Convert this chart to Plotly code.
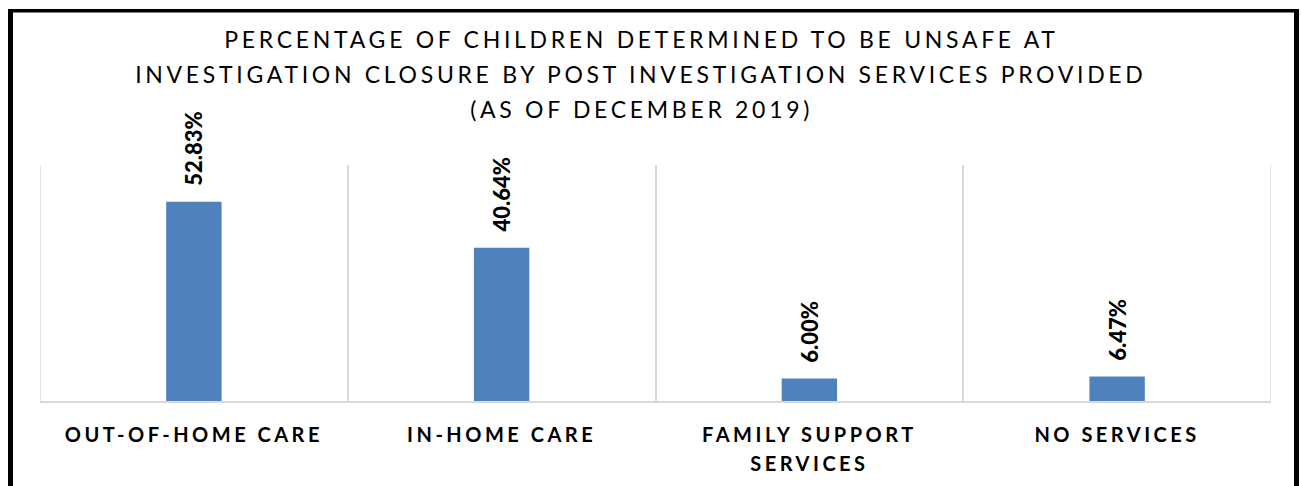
import plotly.graph_objects as go

categories = ["OUT-OF-HOME CARE", "IN-HOME CARE", "FAMILY SUPPORT<br>SERVICES", "NO SERVICES"]
values = [52.83, 40.64, 6.00, 6.47]
value_labels = ["52.83%", "40.64%", "6.00%", "6.47%"]
title_lines = [
    "PERCENTAGE OF CHILDREN DETERMINED TO BE UNSAFE AT",
    "INVESTIGATION CLOSURE BY POST INVESTIGATION SERVICES PROVIDED",
    "(AS OF DECEMBER 2019)",
]

W, H = 1301, 486
L, R, T, B = 40, 30, 165, 85
PW, PH = W - L - R, H - T - B


def px_x(px):
    return (px - L) / PW


def px_y(py):
    return (H - B - py) / PH


FONT = "Lato"

fig = go.Figure()
fig.add_trace(go.Bar(
    x=categories, y=values, width=0.18,
    marker=dict(color="#4F81BD", line=dict(width=0)),
    hoverinfo="skip",
))

annotations = []
for c, v, t in zip(categories, values, value_labels):
    annotations.append(dict(
        x=c, y=v, xref="x", yref="y", text=t, showarrow=False,
        textangle=-90, yanchor="bottom", xanchor="center", yshift=14,
        font=dict(family=FONT, size=22, color="#000000", weight=900),
    ))

title_centers = [39, 73.7, 108.5]
for line, cy in zip(title_lines, title_centers):
    annotations.append(dict(
        x=px_x(641), y=px_y(cy), xref="paper", yref="paper", text=line,
        showarrow=False, xanchor="center", yanchor="middle",
        font=dict(family=FONT, size=23, color="#000000"),
    ))

shapes = [
    dict(type="rect", xref="paper", yref="paper", x0=px_x(8), x1=px_x(13), y0=px_y(490), y1=px_y(9),
         fillcolor="#000000", line=dict(width=0), layer="above"),
    dict(type="rect", xref="paper", yref="paper", x0=px_x(8), x1=px_x(1299), y0=px_y(12.5), y1=px_y(9),
         fillcolor="#000000", line=dict(width=0), layer="above"),
    dict(type="rect", xref="paper", yref="paper", x0=px_x(1294), x1=px_x(1299), y0=px_y(490), y1=px_y(9),
         fillcolor="#000000", line=dict(width=0), layer="above"),
]
# outer category-boundary gridlines (at the plot edges)
for xb in (-0.5, len(categories) - 0.5):
    shapes.append(dict(type="line", xref="x", yref="paper", x0=xb, x1=xb, y0=0, y1=1,
                       line=dict(color="#D9D9D9", width=1.5), layer="below"))

fig.update_layout(
    width=W, height=H,
    margin=dict(l=L, r=R, t=T, b=B, autoexpand=False),
    paper_bgcolor="#FFFFFF", plot_bgcolor="#FFFFFF",
    showlegend=False,
    annotations=annotations, shapes=shapes,
    xaxis=dict(
        type="category", range=[-0.5, 3.5], tickson="boundaries",
        showgrid=True, gridcolor="#D9D9D9", gridwidth=1.5,
        showline=True, linecolor="#D9D9D9", linewidth=1.5,
        ticks="", ticklabelstandoff=15,
        tickfont=dict(family=FONT, size=20, color="#000000", weight="bold"),
    ),
    yaxis=dict(range=[0, 62.6], showgrid=False, zeroline=False, showticklabels=False, showline=False),
)

post = ("var s=document.createElement('style');"
        "s.innerHTML='.xtick text{letter-spacing:3.5px}';"
        "document.head.appendChild(s);"
        "document.querySelectorAll('.annotation').forEach(function(a,i){if(i>=4){var t=a.querySelector('text');if(t){t.style.letterSpacing='3.7px';}}});"
        "document.querySelectorAll('.xtick text').forEach(function(t){var ls=t.querySelectorAll('tspan.line');"
        "for(var k=1;k<ls.length;k++){ls[k].setAttribute('dy',(k*29)+'px');}});")

fig.write_html("out.html", post_script=post)
